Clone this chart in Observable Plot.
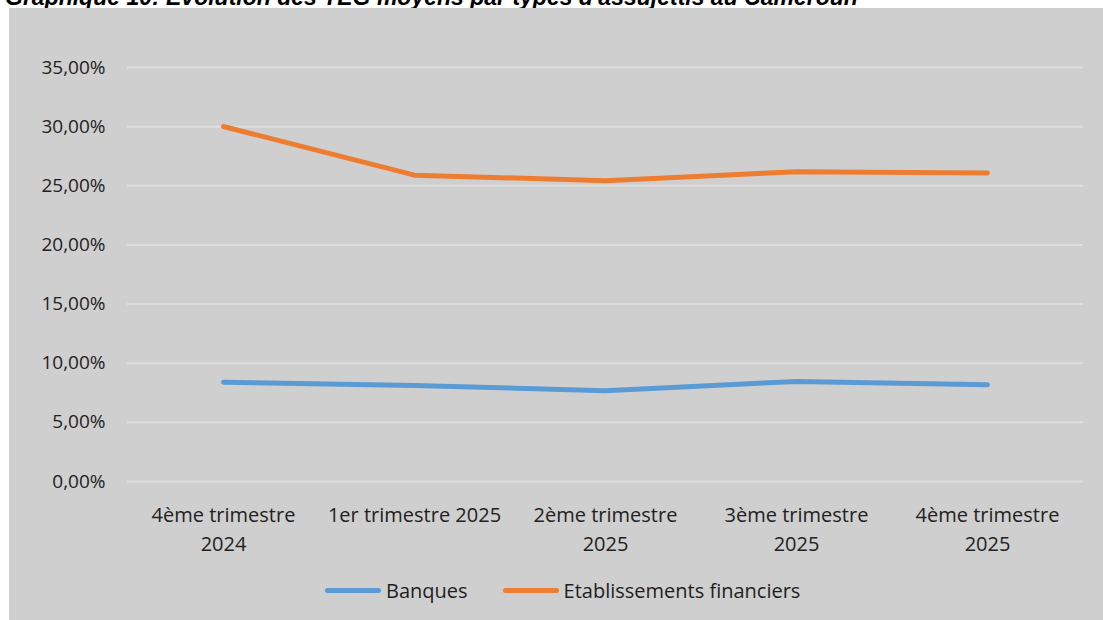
<!DOCTYPE html>
<html>
<head>
<meta charset="utf-8">
<script src="https://cdn.jsdelivr.net/npm/d3@7"></script>
<script src="https://cdn.jsdelivr.net/npm/@observablehq/plot@0.6"></script>
<style>
html, body { margin: 0; padding: 0; background: #ffffff; width: 1103px; height: 620px; overflow: hidden; position: relative; }
#title { position: absolute; left: 5px; top: -14px; font: italic bold 23px "Liberation Sans", Arial, sans-serif; white-space: nowrap; color: #000; line-height: 23px; }
#panel { position: absolute; left: 9px; top: 8px; width: 1094px; height: 612px; background: #d0cfcf; }
#panel svg { position: absolute; left: 0; top: 0; }
#legend { position: absolute; left: 316px; top: 569px; display: flex; align-items: center; font: 20px "Open Sans", sans-serif; color: #1e1e1e; white-space: nowrap; }
.item { display: flex; align-items: center; margin-right: 35px; }
.sw { width: 56px; height: 5px; border-radius: 3px; margin-right: 5px; }
</style>
</head>
<body>
<div id="title">Graphique 10: Evolution des TEG moyens par types d'assujettis au Cameroun</div>
<div id="panel">
  <div id="chart"></div>
  <div id="legend"></div>
</div>
<script>
const categories = ["4ème trimestre 2024", "1er trimestre 2025", "2ème trimestre 2025", "3ème trimestre 2025", "4ème trimestre 2025"];
const tickLabels = ["4ème trimestre\n2024", "1er trimestre 2025", "2ème trimestre\n2025", "3ème trimestre\n2025", "4ème trimestre\n2025"];
const banques = [0.0840, 0.0812, 0.0767, 0.0846, 0.0818];
const etablissements = [0.3001, 0.2590, 0.2543, 0.2619, 0.2608];
const seriesNames = ["Banques", "Etablissements financiers"];
const seriesColors = ["#5b9bd5", "#ed7d31"];
const yTicks = [0, 0.05, 0.10, 0.15, 0.20, 0.25, 0.30, 0.35];

const data = [];
categories.forEach((c, i) => {
  data.push({cat: c, series: seriesNames[0], value: banques[i]});
  data.push({cat: c, series: seriesNames[1], value: etablissements[i]});
});

const fmtPct = v => (v * 100).toFixed(2).replace(".", ",") + "%";

const chart = Plot.plot({
  width: 1094,
  height: 560,
  marginLeft: 118,
  marginRight: 20,
  marginTop: 59,
  marginBottom: 87,
  style: { background: "transparent", fontFamily: "'Open Sans', sans-serif", fontSize: "20px", color: "#222222" },
  x: { type: "point", domain: categories, padding: 0.5 },
  y: { domain: [0, 0.35] },
  color: { domain: seriesNames, range: seriesColors },
  marks: [
    Plot.gridY(yTicks, { stroke: "#dedede", strokeOpacity: 1, strokeWidth: 2 }),
    Plot.axisY(yTicks, { tickSize: 0, tickPadding: 22, tickFormat: fmtPct, fontSize: 19, label: null }),
    Plot.axisX({ tickSize: 0, tickPadding: 20, lineHeight: 1.45, fontSize: 20, label: null,
      tickFormat: d => tickLabels[categories.indexOf(d)] }),
    Plot.line(data, { x: "cat", y: "value", z: "series", stroke: "series", strokeWidth: 5, strokeLinecap: "round", strokeLinejoin: "round" })
  ]
});
document.getElementById("chart").appendChild(chart);

const legend = document.getElementById("legend");
seriesNames.forEach((name, i) => {
  const item = document.createElement("div");
  item.className = "item";
  const sw = document.createElement("div");
  sw.className = "sw";
  sw.style.background = seriesColors[i];
  const lab = document.createElement("span");
  lab.textContent = name;
  item.appendChild(sw);
  item.appendChild(lab);
  legend.appendChild(item);
});
</script>
</body>
</html>
